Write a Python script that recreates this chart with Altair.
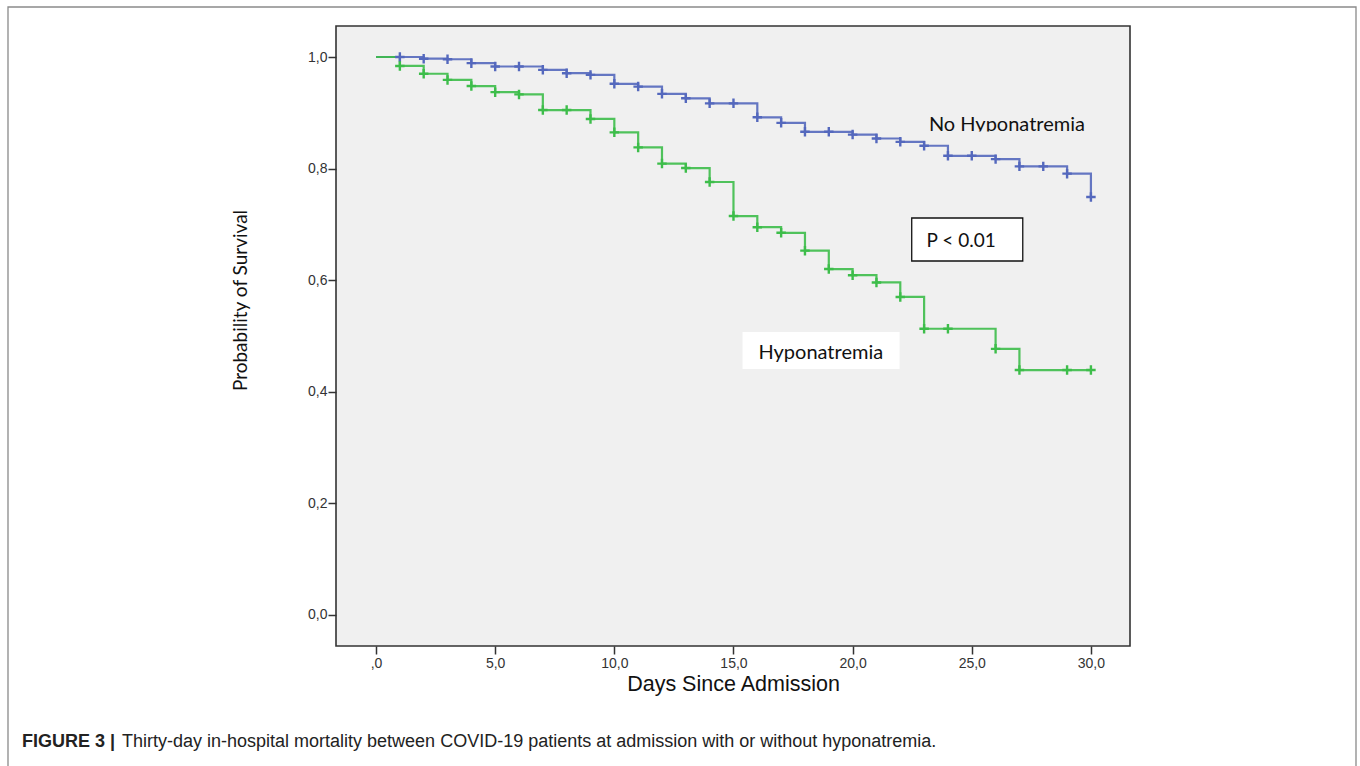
import altair as alt
import pandas as pd

# ---- data ----
days = list(range(0, 31))
no_hypo = [1.0, 1.0, 0.997, 0.996, 0.989, 0.983, 0.983, 0.977, 0.971, 0.968, 0.952,
           0.947, 0.934, 0.926, 0.917, 0.917, 0.892, 0.882, 0.866, 0.866, 0.861,
           0.854, 0.848, 0.841, 0.823, 0.823, 0.817, 0.804, 0.804, 0.791, 0.749]
hypo = [1.0, 0.984, 0.970, 0.959, 0.948, 0.937, 0.933, 0.905, 0.905, 0.889, 0.865,
        0.838, 0.809, 0.801, 0.776, 0.715, 0.695, 0.685, 0.653, 0.620, 0.609,
        0.596, 0.570, 0.513, 0.513, 0.513, 0.477, 0.439, 0.439, 0.439, 0.439]
no_hypo_censored = list(range(1, 31))
hypo_censored = list(range(1, 25)) + [26, 27, 29, 30]

x_ticks = [0, 5, 10, 15, 20, 25, 30]
y_ticks = [0.0, 0.2, 0.4, 0.6, 0.8, 1.0]
groups = ["No Hyponatremia", "Hyponatremia"]
line_colors = ["#5468bd", "#3dbd4a"]
mark_colors = ["#2f48a8", "#22ad33"]

rows = []
for d, v in zip(days, no_hypo):
    rows.append({"day": d, "surv": v, "group": groups[0]})
for d, v in zip(days, hypo):
    rows.append({"day": d, "surv": v, "group": groups[1]})
curves = pd.DataFrame(rows)

crows = []
for d in no_hypo_censored:
    crows.append({"day": d, "surv": no_hypo[d], "group": groups[0]})
for d in hypo_censored:
    crows.append({"day": d, "surv": hypo[d], "group": groups[1]})
cens = pd.DataFrame(crows)

xs = alt.Scale(domain=[-1.68, 31.64], nice=False, zero=False)
ys = alt.Scale(domain=[-0.0556, 1.0556], nice=False, zero=False)
cscale = alt.Scale(domain=groups, range=line_colors)
mscale = alt.Scale(domain=groups, range=mark_colors)

x_axis = alt.Axis(values=x_ticks, grid=False, domain=False, tickSize=8, tickWidth=1.5,
                  tickColor="#333", labelFont="Liberation Sans", labelFontSize=14,
                  labelColor="#333", labelPadding=2,
                  labelExpr="datum.value == 0 ? ',0' : replace(format(datum.value, '.1f'), '.', ',')",
                  title="Days Since Admission", titleFont="Liberation Sans", titleFontSize=21.5,
                  titleFontWeight="normal", titleColor="#111", titlePadding=3)
y_axis = alt.Axis(values=y_ticks, grid=False, domain=False, tickSize=8, tickWidth=1.5,
                  tickColor="#333", labelFont="Liberation Sans", labelFontSize=14,
                  labelColor="#333", labelPadding=1,
                  labelExpr="replace(format(datum.value, '.1f'), '.', ',')",
                  title="Probability of Survival", titleFont="Lato", titleFontSize=19,
                  titleFontWeight="normal", titleColor="#111",
                  titleX=-96, titleY=274, titleAngle=-90, titleAlign="center",
                  titleBaseline="middle")

base = alt.Chart(curves)

lines = base.mark_line(interpolate="step-after", strokeWidth=2.2, opacity=0.9).encode(
    x=alt.X("day:Q", scale=xs, axis=x_axis),
    y=alt.Y("surv:Q", scale=ys, axis=y_axis),
    color=alt.Color("group:N", scale=cscale, legend=None),
    order=alt.Order("day:Q"),
)

plus = "M-1,0L1,0M0,-1L0,1"
marks = alt.Chart(cens).mark_point(shape=plus, filled=False, size=90, strokeWidth=2.4,
                                   opacity=1).encode(
    x=alt.X("day:Q", scale=xs),
    y=alt.Y("surv:Q", scale=ys),
    color=alt.Color("group:N", scale=mscale, legend=None),
)

# annotations (positioned in data units)
ann = pd.DataFrame({"x": [0]})
p_box = alt.Chart(ann).mark_rect(fill="white", stroke="#111", strokeWidth=1.3).encode(
    x=alt.datum(22.48, scale=xs), x2=alt.datum(27.14),
    y=alt.datum(0.7115, scale=ys), y2=alt.datum(0.6344))
h_box = alt.Chart(ann).mark_rect(fill="white", stroke=None).encode(
    x=alt.datum(15.38, scale=xs), x2=alt.datum(21.97),
    y=alt.datum(0.5072, scale=ys), y2=alt.datum(0.4409))
p_text = alt.Chart(ann).mark_text(text="P < 0.01", font="Lato", fontSize=19, align="left",
                                  baseline="alphabetic", color="#111").encode(
    x=alt.datum(23.1, scale=xs), y=alt.datum(0.660, scale=ys))
h_text = alt.Chart(ann).mark_text(text="Hyponatremia", font="Lato", fontSize=20, align="left",
                                  baseline="alphabetic", color="#111").encode(
    x=alt.datum(16.05, scale=xs), y=alt.datum(0.459, scale=ys))
n_text = alt.Chart(ann).mark_text(text="No Hyponatremia", font="Lato", fontSize=20, align="left",
                                  baseline="alphabetic", color="#111").encode(
    x=alt.datum(23.2, scale=xs), y=alt.datum(0.867, scale=ys))
n_cover = alt.Chart(ann).mark_rect(fill="#f0f0f0").encode(
    x=alt.datum(23.0, scale=xs), x2=alt.datum(29.95),
    y=alt.datum(0.8665, scale=ys), y2=alt.datum(0.856))

# outer frame and caption (outside the plot area)
frame = alt.Chart(ann).mark_rect(fill=None, stroke="#8a8a8a", strokeWidth=1.3, clip=False).encode(
    x=alt.value(8 - 336), x2=alt.value(1356 - 336), y=alt.value(7 - 26), y2=alt.value(820))
cap_bold = alt.Chart(ann).mark_text(text="FIGURE 3 |", font="Liberation Sans",
                                    fontSize=18, fontWeight="bold", align="left",
                                    baseline="middle", color="#222", clip=False).encode(
    x=alt.value(22 - 336), y=alt.value(742 - 26))
cap_text = alt.Chart(ann).mark_text(
    text="Thirty-day in-hospital mortality between COVID-19 patients at admission with or without hyponatremia.",
    font="Liberation Sans", fontSize=18, align="left", baseline="middle",
    color="#222", clip=False).encode(x=alt.value(122 - 336), y=alt.value(742 - 26))

chart = alt.layer(
    frame, h_box, p_box, lines, marks, n_text, n_cover, p_text, h_text, cap_bold, cap_text
).properties(
    width=794, height=620,
    autosize=alt.AutoSizeParams(type="none"),
    padding={"left": 336, "top": 26, "right": 230, "bottom": 120},
    background="white",
).configure_view(
    fill="#f0f0f0", stroke="#333", strokeWidth=1.6
)

chart.save("out.html", embed_options={"renderer": "svg", "actions": False})
